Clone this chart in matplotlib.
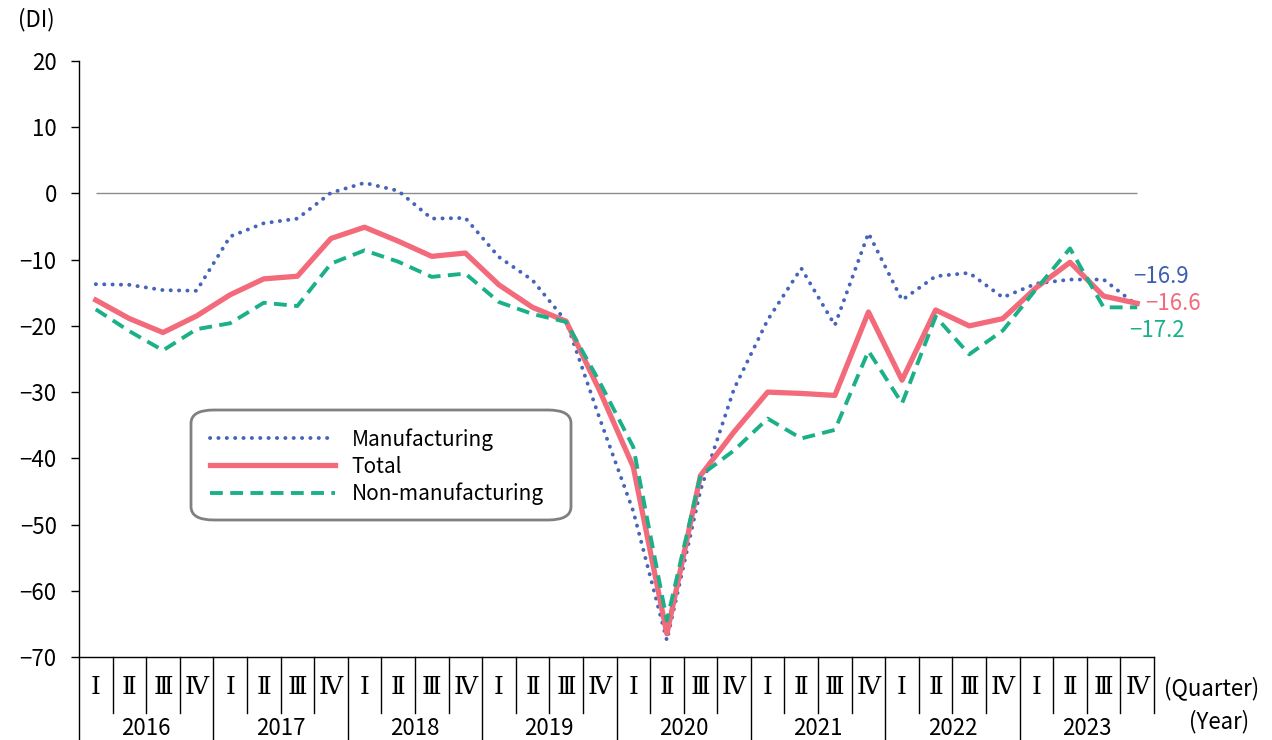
import matplotlib
matplotlib.use('Agg')
import matplotlib.pyplot as plt
from matplotlib.patches import FancyBboxPatch
from matplotlib.lines import Line2D
from matplotlib.transforms import blended_transform_factory

plt.rcParams['font.family'] = ['Noto Sans CJK JP', 'DejaVu Sans']

years = ['2016', '2017', '2018', '2019', '2020', '2021', '2022', '2023']
quarters = ['Ⅰ', 'Ⅱ', 'Ⅲ', 'Ⅳ']

manufacturing = [-13.7, -13.8, -14.6, -14.7, -6.5, -4.5, -3.8, 0.1,
                 1.6, 0.4, -3.8, -3.7, -9.6, -13.1, -19.3, -34.0,
                 -48.0, -67.5, -44.8, -29.5, -19.1, -11.3, -19.9, -6.0,
                 -16.1, -12.5, -12.0, -15.7, -13.6, -13.0, -13.0, -16.9]
total = [-16.1, -18.9, -21.0, -18.5, -15.3, -12.9, -12.5, -6.8,
         -5.1, -7.2, -9.5, -9.0, -13.8, -17.2, -19.3, -29.8,
         -41.3, -66.5, -42.6, -36.0, -30.0, -30.2, -30.5, -17.9,
         -28.2, -17.6, -20.0, -18.9, -14.2, -10.4, -15.5, -16.6]
non_manufacturing = [-17.5, -20.8, -23.7, -20.5, -19.6, -16.5, -17.0, -10.6,
                     -8.6, -10.3, -12.6, -12.1, -16.4, -18.2, -19.4, -28.5,
                     -38.3, -64.5, -42.6, -38.8, -34.0, -37.0, -35.7, -23.8,
                     -31.7, -18.6, -24.3, -20.7, -14.4, -8.3, -17.2, -17.2]

BLUE = '#4565bb'
RED = '#f36b7b'
GREEN = '#1bb088'

W, H = 1272, 740
fig = plt.figure(figsize=(W / 100, H / 100), dpi=100)
ax = fig.add_axes([79 / W, 83 / H, (1154 - 79) / W, 596 / H])

n = len(total)
xs = [i + 0.5 for i in range(n)]

ax.hlines(0, xs[0], xs[-1], color='#8c8c8c', lw=1.0, zorder=1)

l1, = ax.plot(xs, manufacturing, color=BLUE, lw=2.8, linestyle=(0, (0.05, 2.1)),
              dash_capstyle='round', label='Manufacturing', zorder=3)
l2, = ax.plot(xs, total, color=RED, lw=3.8, label='Total', zorder=4)
l3, = ax.plot(xs, non_manufacturing, color=GREEN, lw=2.8, linestyle=(0, (3.3, 1.9)),
              label='Non-manufacturing', zorder=5)

ax.set_xlim(0, n)
ax.set_ylim(-70, 20)
ax.set_yticks(range(-70, 21, 10))
ax.set_xticks([])
for s in ['top', 'right']:
    ax.spines[s].set_visible(False)
for s in ['left', 'bottom']:
    ax.spines[s].set_linewidth(1.0)
    ax.spines[s].set_color('black')
ax.tick_params(axis='y', direction='out', length=6, width=1, pad=10, labelsize=16)

# end labels
ax.annotate('−16.9', (xs[-1], manufacturing[-1]), xytext=(-3, 21), textcoords='offset points',
            color='#3d5fb0', fontsize=16, ha='left', va='center')
ax.annotate('−16.6', (xs[-1], total[-1]), xytext=(6, 0), textcoords='offset points',
            color=RED, fontsize=16, ha='left', va='center')
ax.annotate('−17.2', (xs[-1], non_manufacturing[-1]), xytext=(-6, -17), textcoords='offset points',
            color=GREEN, fontsize=16, ha='left', va='center')

# quarter / year table under the axis
trans = blended_transform_factory(ax.transData, ax.transAxes)
q_row = -0.052
q_bottom = -0.094
y_row = -0.12
for i in range(n):
    ax.text(i + 0.5, q_row, quarters[i % 4], transform=trans, ha='center', va='center',
            fontsize=18, family=['DejaVu Serif', 'Noto Sans CJK JP'], clip_on=False)
for i in range(n + 1):
    bottom = -0.2 if (i % 4 == 0 and i < n) else q_bottom
    ax.add_line(Line2D([i, i], [0, bottom], transform=trans, color='black', lw=1.0,
                       clip_on=False))
for k, yr in enumerate(years):
    ax.text(4 * k + 2, y_row, yr, transform=trans, ha='center', va='center',
            fontsize=16, clip_on=False)

fig.text(1164 / W, 1 - 688 / H, '(Quarter)', ha='left', va='center', fontsize=16)
fig.text(1219 / W, 1 - 722 / H, '(Year)', ha='center', va='center', fontsize=16)
fig.text(18 / W, 1 - 20 / H, '(DI)', ha='left', va='center', fontsize=16)

# legend with rounded frame
box = FancyBboxPatch((191 / W, 1 - 520 / H), (571 - 191) / W, 110 / H,
                     boxstyle='round,pad=0,rounding_size=0.018',
                     transform=fig.transFigure, facecolor='white',
                     edgecolor='#808080', lw=2, zorder=6, clip_on=False)
ax.add_patch(box)
leg = ax.legend(handles=[l1, l2, l3], loc='upper left', frameon=False,
                bbox_to_anchor=(210 / W, 1 - 428 / H), bbox_transform=fig.transFigure,
                borderpad=0, borderaxespad=0, handlelength=6.0, handletextpad=0.8,
                labelspacing=0.24, fontsize=15)
leg.set_zorder(7)

fig.savefig('out.png', dpi=100)
